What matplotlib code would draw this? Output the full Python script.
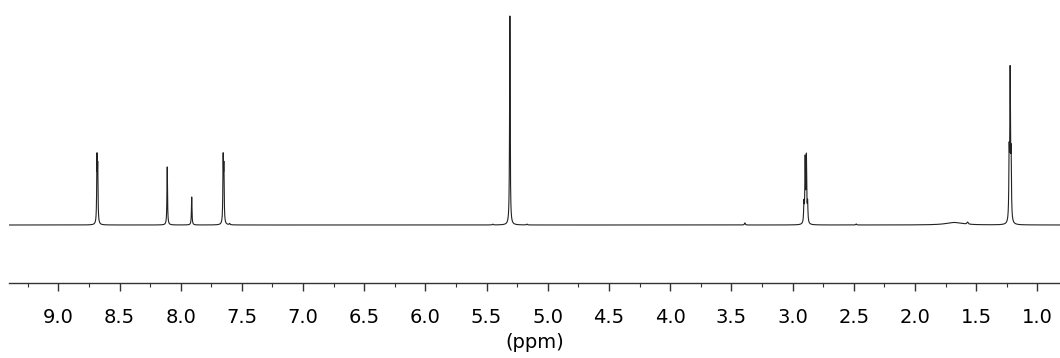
import numpy as np
import matplotlib
matplotlib.use("Agg")
import matplotlib.pyplot as plt
from matplotlib.ticker import MultipleLocator

# Peak list: position (ppm), relative height, half-width (ppm)
peak_ppm = [8.684, 8.678, 8.110, 7.910, 7.653, 7.647, 7.600, 5.450, 5.310, 5.170,
            3.390, 2.907, 2.897, 2.887, 2.877, 2.480, 1.680, 1.570,
            1.230, 1.222, 1.214]
peak_height = [0.30, 0.25, 0.278, 0.134, 0.30, 0.25, 0.006, 0.004, 1.0, 0.004,
               0.010, 0.09, 0.30, 0.31, 0.09, 0.005, 0.012, 0.010,
               0.30, 0.69, 0.29]
peak_hw = [0.0028, 0.0028, 0.0028, 0.0028, 0.0028, 0.0028, 0.004, 0.004, 0.0028, 0.004,
           0.004, 0.0030, 0.0030, 0.0030, 0.0030, 0.004, 0.08, 0.006,
           0.0030, 0.0030, 0.0030]

x_left, x_right = 9.403, 0.8145
major_ticks = [9.0, 8.5, 8.0, 7.5, 7.0, 6.5, 6.0, 5.5, 5.0, 4.5, 4.0, 3.5, 3.0, 2.5, 2.0, 1.5, 1.0]


def main():
    ppm = np.linspace(x_left, x_right, 45000)
    intensity = np.zeros_like(ppm)
    for p, h, w in zip(peak_ppm, peak_height, peak_hw):
        intensity += h / (1 + ((ppm - p) / w) ** 2)

    fig = plt.figure(figsize=(10.6, 3.58), dpi=100)
    ax = fig.add_axes([9 / 1060, 75 / 358, 1 - 9 / 1060, 283 / 358])

    ax.plot(ppm, intensity, color='#222222', linewidth=0.8)

    ax.set_xlim(x_left, x_right)
    ax.set_ylim(-58 / 209, 225 / 209)

    for side in ['top', 'left', 'right']:
        ax.spines[side].set_visible(False)
    ax.spines['bottom'].set_color('#333333')
    ax.spines['bottom'].set_linewidth(1.0)
    ax.set_yticks([])

    ax.set_xticks(major_ticks)
    ax.set_xticklabels([f'{t:.1f}' for t in major_ticks])
    ax.xaxis.set_minor_locator(MultipleLocator(0.25))
    ax.tick_params(axis='x', which='major', direction='out', length=6, width=1.0,
                   color='#333333', labelsize=14, pad=12)
    ax.tick_params(axis='x', which='minor', direction='out', length=3, width=0.8,
                   color='#333333')
    ax.set_xlabel('(ppm)', fontsize=14, labelpad=4)

    fig.savefig('out.png', dpi=100)
    plt.close(fig)


if __name__ == '__main__':
    main()
